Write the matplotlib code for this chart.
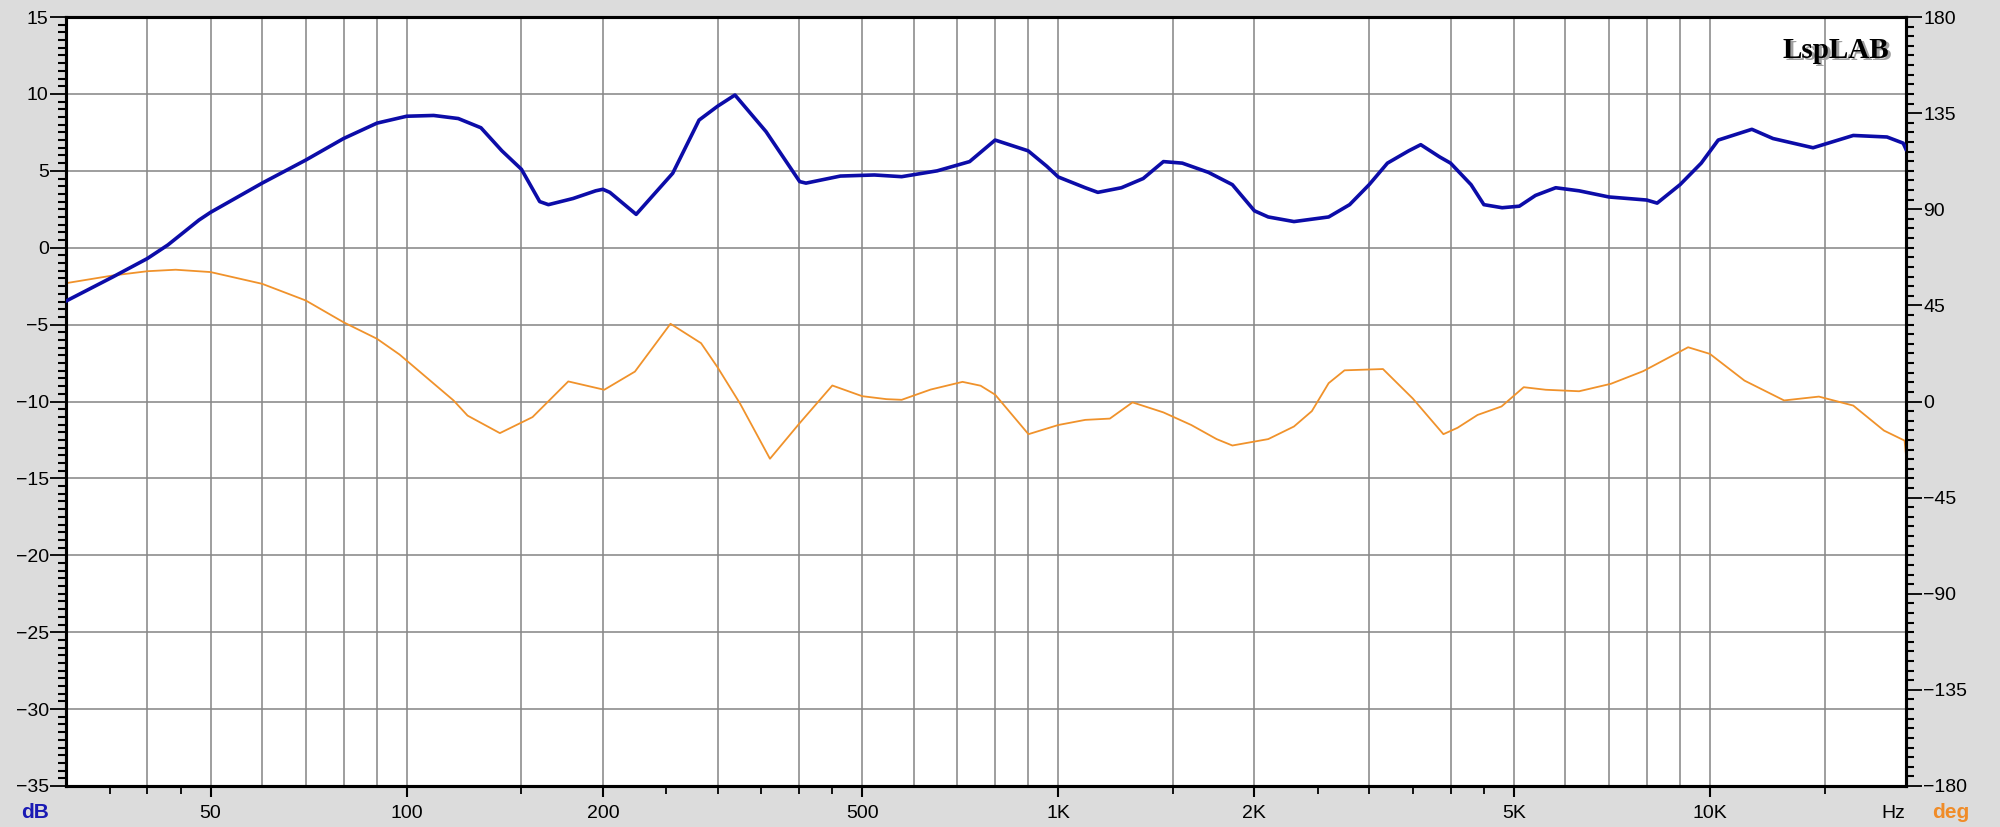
import matplotlib
matplotlib.use("Agg")
import matplotlib.pyplot as plt
from matplotlib.ticker import FixedLocator, MultipleLocator, NullFormatter

plt.rcParams['font.family'] = ['Liberation Sans', 'DejaVu Sans']

# magnitude (dB)
freq_mag = [30, 35.4, 40, 43, 48, 50, 60, 70, 80, 90, 100, 110, 120, 130, 140, 150,
            160, 165, 180, 195, 200, 205, 225, 256, 281, 300, 319, 356, 401, 410,
            463, 522, 575, 652, 731, 800, 899, 960, 1000, 1100, 1150, 1250, 1350,
            1450, 1550, 1700, 1850, 2000, 2100, 2300, 2600, 2800, 3000, 3200, 3450,
            3600, 3850, 4000, 4300, 4500, 4800, 5100, 5400, 5800, 6300, 7000, 8000,
            8300, 9000, 9700, 10300, 11600, 12500, 14400, 16600, 18700, 19800, 20000]
mag_db = [-3.47, -1.9, -0.7, 0.18, 1.8, 2.3, 4.2, 5.7, 7.1, 8.1, 8.55, 8.6, 8.4, 7.8, 6.3, 5.1,
          3.0, 2.8, 3.2, 3.7, 3.8, 3.6, 2.17, 4.84, 8.3, 9.2, 9.93, 7.55, 4.3, 4.2,
          4.66, 4.73, 4.62, 5.0, 5.6, 7.0, 6.3, 5.3, 4.6, 3.9, 3.6, 3.9, 4.5,
          5.6, 5.5, 4.9, 4.1, 2.4, 2.0, 1.7, 2.0, 2.8, 4.1, 5.5, 6.3,
          6.7, 5.9, 5.5, 4.1, 2.8, 2.6, 2.7, 3.4, 3.9, 3.7, 3.3, 3.1,
          2.9, 4.1, 5.5, 7.0, 7.7, 7.1, 6.5, 7.3, 7.2, 6.8, 6.4]

# phase (deg)
freq_phase = [30, 35.4, 40, 44.2, 50, 60, 70, 80, 90, 97.5, 118, 124, 139, 156, 177,
              201, 224, 254, 283, 300, 325, 361, 400, 450, 500, 545, 575, 637, 713,
              760, 800, 900, 1000, 1100, 1200, 1300, 1450, 1600, 1750, 1850, 2100,
              2300, 2450, 2600, 2750, 3150, 3500, 3900, 4100, 4400, 4790, 5180, 5600,
              6300, 7050, 7900, 9260, 10000, 11300, 13000, 14700, 16600, 18500, 19900, 20000]
phase_deg = [55.4, 59, 61, 61.7, 60.6, 55.1, 47.3, 37.1, 29.4, 22, 0.5, -6.6, -14.8, -7.3, 9.4,
             5.5, 14, 36.4, 27.3, 16, -1.1, -26.8, -10.5, 7.5, 2.5, 1.1, 0.8, 5.6, 9.2,
             7.4, 3.2, -15.3, -11, -8.6, -8, -0.4, -5.1, -11, -17.6, -20.6, -17.6,
             -11.7, -4.5, 8.6, 14.6, 15.2, 1.4, -15.3, -12.3, -6.3, -2.3, 6.7, 5.5,
             4.8, 8.3, 14.2, 25.4, 22.3, 9.8, 0.5, 2.3, -1.9, -13.6, -18.3, -25]

label_freqs = [50, 100, 200, 500, 1000, 2000, 5000, 10000]
label_texts = ["50", "100", "200", "500", "1K", "2K", "5K", "10K"]
minor_freqs = [35, 40, 45, 150, 250, 300, 350, 400, 450, 1500, 2500, 3000, 3500, 4000, 4500, 15000]
grid_freqs = [40, 50, 60, 70, 80, 90, 100, 150, 200, 300, 400, 500, 600, 700, 800, 900,
              1000, 1500, 2000, 3000, 4000, 5000, 6000, 7000, 8000, 9000, 10000, 15000]

bg = "#dcdcdc"
fig = plt.figure(figsize=(20, 8.27), dpi=100, facecolor=bg)
ax = fig.add_axes([0.033, 0.0496, 0.92, 0.9298])
ax.set_facecolor("white")
ax2 = ax.twinx()

ax.set_xscale("log")
ax.set_xlim(30, 20000)
ax.set_ylim(-35, 15)
ax2.set_ylim(-180, 180)

# grid
for f in grid_freqs:
    ax.axvline(f, color="#888888", lw=1.15, zorder=1)
for v in range(-30, 15, 5):
    ax.axhline(v, color="#888888", lw=1.15, zorder=1)

ax2.plot(freq_phase, phase_deg, color="#f0922b", lw=1.3, zorder=2)
ax2.plot(freq_mag, mag_db, color="#0c0ca8", lw=2.6, zorder=3, transform=ax.transData)
ax2.set_ylim(-180, 180)
ax.set_xlim(30, 20000)

# x ticks
ax.xaxis.set_major_locator(FixedLocator(label_freqs))
ax.set_xticklabels(label_texts)
ax.xaxis.set_minor_locator(FixedLocator(minor_freqs))
ax.xaxis.set_minor_formatter(NullFormatter())
ax.tick_params(axis="x", which="major", direction="out", length=8, width=1.5, labelsize=14, pad=6)
ax.tick_params(axis="x", which="minor", direction="out", length=6, width=1.3)

# left y ticks
ax.yaxis.set_major_locator(MultipleLocator(5))
ax.yaxis.set_minor_locator(MultipleLocator(0.5))
ax.tick_params(axis="y", which="major", direction="out", length=11.5, width=1.3, labelsize=14, pad=1)
ax.tick_params(axis="y", which="minor", direction="out", length=6, width=1.5)

# right y ticks
ax2.yaxis.set_major_locator(MultipleLocator(45))
ax2.yaxis.set_minor_locator(MultipleLocator(4.5))
ax2.tick_params(axis="y", which="major", direction="out", length=11.5, width=1.3, labelsize=14, pad=1)
ax2.tick_params(axis="y", which="minor", direction="out", length=6, width=1.5)

for a in (ax, ax2):
    for s in a.spines.values():
        s.set_linewidth(2.2)
        s.set_color("black")

# LspLAB logo with shadow
ax.text(0.9922, 0.971, "LspLAB", transform=ax.transAxes, ha="right", va="top",
        fontsize=21, fontweight="bold", family="Liberation Serif", color="#a0a0a0", zorder=4)
ax.text(0.9910, 0.974, "LspLAB", transform=ax.transAxes, ha="right", va="top",
        fontsize=21, fontweight="bold", family="Liberation Serif", color="black", zorder=5)

fig.text(35 / 2000, 1 - 813 / 827, "dB", color="#1a1ab4", fontsize=15, fontweight="bold",
         ha="center", va="center")
fig.text(1893 / 2000, 1 - 813 / 827, "Hz", color="black", fontsize=14, ha="center", va="center")
fig.text(1951 / 2000, 1 - 813 / 827, "deg", color="#f08c28", fontsize=15, fontweight="bold",
         ha="center", va="center")

fig.savefig("out.png", dpi=100, facecolor=bg)
